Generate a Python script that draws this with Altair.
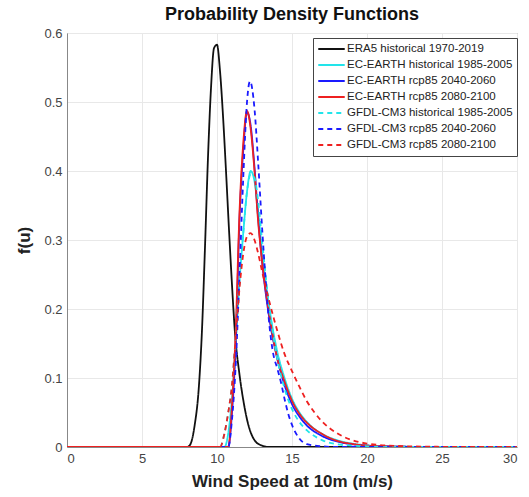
import altair as alt
import pandas as pd

series_names = [
    "ERA5 historical 1970-2019",
    "EC-EARTH historical 1985-2005",
    "EC-EARTH rcp85 2040-2060",
    "EC-EARTH rcp85 2080-2100",
    "GFDL-CM3 historical 1985-2005",
    "GFDL-CM3 rcp85 2040-2060",
    "GFDL-CM3 rcp85 2080-2100",
]
series_colors = ["#111111", "#22e4ea", "#1a1aff", "#ee2020", "#22e4ea", "#1a1aff", "#ee2020"]
series_dash = [[1, 0], [1, 0], [1, 0], [1, 0], [5, 4], [5, 4], [5, 4]]

# ERA5 historical
era5_x = [0, 8.0, 8.2, 8.5, 8.8, 9.0, 9.2, 9.4, 9.6, 9.8, 10.0, 10.2, 10.4, 10.6, 10.8, 11.0, 11.2, 11.5, 11.8, 12.0, 12.5, 13.0, 13.5, 30]
era5_y = [0, 0, 0.003, 0.03, 0.09, 0.17, 0.29, 0.42, 0.52, 0.578, 0.583, 0.545, 0.48, 0.40, 0.315, 0.235, 0.165, 0.105, 0.062, 0.04, 0.01, 0.002, 0, 0]

# EC-EARTH historical
ech_x = [0, 10.5, 10.75, 11.0, 11.25, 11.5, 11.75, 12.0, 12.25, 12.5, 12.75, 13.0, 13.5, 14.0, 14.5, 15.0, 15.5, 16.0, 17.0, 18.0, 19.0, 20.0, 22.0, 25.0, 30]
ech_y = [0, 0, 0.02, 0.07, 0.15, 0.24, 0.31, 0.37, 0.40, 0.385, 0.34, 0.285, 0.20, 0.14, 0.10, 0.07, 0.05, 0.036, 0.019, 0.010, 0.005, 0.0025, 0.0006, 0, 0]

# EC-EARTH rcp85 2040-2060
ec40_x = [0, 10.75, 11.0, 11.25, 11.5, 11.75, 12.0, 12.25, 12.5, 12.75, 13.0, 13.5, 14.0, 14.5, 15.0, 15.5, 16.0, 17.0, 18.0, 19.0, 20.0, 22.0, 25.0, 30]
ec40_y = [0, 0, 0.05, 0.15, 0.33, 0.43, 0.485, 0.465, 0.405, 0.33, 0.27, 0.185, 0.13, 0.09, 0.062, 0.044, 0.031, 0.016, 0.008, 0.004, 0.002, 0.0005, 0, 0]

# EC-EARTH rcp85 2080-2100
ec80_x = [0, 10.75, 11.0, 11.25, 11.5, 11.75, 12.0, 12.25, 12.5, 12.75, 13.0, 13.5, 14.0, 14.5, 15.0, 15.5, 16.0, 17.0, 18.0, 19.0, 20.0, 22.0, 25.0, 30]
ec80_y = [0, 0, 0.06, 0.17, 0.34, 0.44, 0.487, 0.46, 0.40, 0.325, 0.27, 0.19, 0.13, 0.095, 0.067, 0.048, 0.035, 0.019, 0.009, 0.0045, 0.002, 0.0005, 0, 0]

# GFDL-CM3 historical
gfh_x = [0, 10.2, 10.5, 10.75, 11.0, 11.25, 11.5, 11.75, 12.0, 12.25, 12.5, 12.75, 13.0, 13.5, 14.0, 14.5, 15.0, 15.5, 16.0, 17.0, 18.0, 19.0, 20.0, 22.0, 30]
gfh_y = [0, 0, 0.02, 0.05, 0.09, 0.16, 0.24, 0.31, 0.37, 0.395, 0.39, 0.355, 0.30, 0.20, 0.13, 0.085, 0.055, 0.036, 0.024, 0.010, 0.004, 0.002, 0.001, 0, 0]

# GFDL-CM3 rcp85 2040-2060
gf40_x = [0, 10.75, 11.0, 11.25, 11.5, 11.75, 12.0, 12.2, 12.5, 12.75, 13.0, 13.25, 13.5, 13.75, 14.0, 14.25, 14.5, 14.75, 15.0, 15.5, 16.0, 17.0, 18.0, 30]
gf40_y = [0, 0, 0.04, 0.12, 0.25, 0.39, 0.50, 0.53, 0.49, 0.41, 0.32, 0.24, 0.175, 0.135, 0.115, 0.095, 0.07, 0.048, 0.032, 0.012, 0.004, 0.001, 0, 0]

# GFDL-CM3 rcp85 2080-2100
gf80_x = [0, 10.2, 10.5, 10.75, 11.0, 11.25, 11.5, 11.75, 12.0, 12.25, 12.5, 12.75, 13.0, 13.5, 14.0, 14.5, 15.0, 15.5, 16.0, 16.5, 17.0, 18.0, 19.0, 20.0, 22.0, 25.0, 30]
gf80_y = [0, 0, 0.02, 0.05, 0.09, 0.16, 0.23, 0.28, 0.305, 0.31, 0.30, 0.28, 0.255, 0.21, 0.17, 0.135, 0.11, 0.087, 0.066, 0.05, 0.037, 0.02, 0.01, 0.005, 0.0015, 0.0003, 0]

all_x = [era5_x, ech_x, ec40_x, ec80_x, gfh_x, gf40_x, gf80_x]
all_y = [era5_y, ech_y, ec40_y, ec80_y, gfh_y, gf40_y, gf80_y]

rows = []
for i, (name, xs, ys) in enumerate(zip(series_names, all_x, all_y)):
    for j, (x, y) in enumerate(zip(xs, ys)):
        rows.append({"series": name, "order": i, "idx": j, "u": x, "f": y})
df = pd.DataFrame(rows)

FONT = "Liberation Sans"

chart = alt.Chart(df).mark_line(strokeWidth=1.8, interpolate="monotone", clip=True).encode(
    x=alt.X("u:Q", scale=alt.Scale(domain=[0, 30], nice=False),
            axis=alt.Axis(title="Wind Speed at 10m (m/s)", values=[0, 5, 10, 15, 20, 25, 30])),
    y=alt.Y("f:Q", scale=alt.Scale(domain=[0, 0.6], nice=False),
            axis=alt.Axis(title="f(u)", values=[0, 0.1, 0.2, 0.3, 0.4, 0.5, 0.6], format="~g")),
    color=alt.Color("series:N", scale=alt.Scale(domain=series_names, range=series_colors),
                    sort=series_names, legend=alt.Legend(title=None)),
    strokeDash=alt.StrokeDash("series:N", scale=alt.Scale(domain=series_names, range=series_dash),
                              sort=series_names, legend=alt.Legend(title=None)),
    detail="series:N",
    order="idx:Q",
).properties(
    width=450,
    height=414,
    title=alt.TitleParams("Probability Density Functions", fontSize=18, fontWeight="bold",
                          font=FONT, color="#111111", anchor="middle", offset=3),
    autosize=alt.AutoSizeParams(type="none"),
    padding={"left": 67, "top": 33, "right": 12, "bottom": 50},
).configure_view(
    stroke="#888888", strokeWidth=1
).configure_axis(
    labelFont=FONT, labelFontSize=13, labelColor="#444444",
    titleFont=FONT, titleFontSize=17, titleFontWeight="bold", titleColor="#222222",
    grid=True, gridColor="#e8e8e8", ticks=False, domainColor="#888888",
    labelPadding=5,
).configure_axisX(
    titlePadding=8,
).configure_axisY(
    titlePadding=10,
).configure_legend(
    orient="none", legendX=246, legendY=5,
    fillColor="white", strokeColor="#444444", padding=4,
    labelFont=FONT, labelFontSize=11.5, labelColor="#222222", labelLimit=400,
    symbolType="stroke", symbolStrokeWidth=2, symbolSize=700,
    clipHeight=14, rowPadding=2, labelOffset=1,
)

chart.save("out.html", embed_options={"renderer": "svg", "actions": False})
